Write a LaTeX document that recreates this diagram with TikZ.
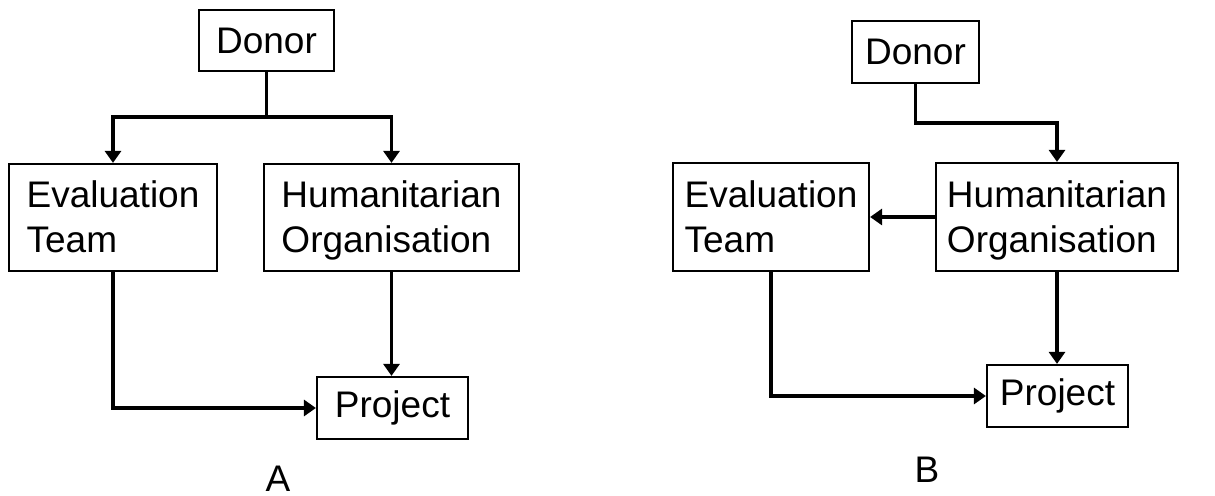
\documentclass[tikz,border=0pt]{standalone}
\usepackage{fontspec}
\setmainfont{Liberation Sans}
\usetikzlibrary{arrows.meta}
% struts that place the two text lines slightly below the box centre
\newcommand{\topline}{\rule{0pt}{17pt}}
\newcommand{\botline}{\rule[-4pt]{0pt}{4pt}}
\begin{document}
\begin{tikzpicture}[x=0.5pt,y=-0.5pt,
  box/.style={draw,line width=1.1pt,inner sep=0pt,align=left,
    font=\fontsize{18.5}{22.5}\selectfont},
  caption/.style={inner sep=0pt,font=\fontsize{18.5}{22.5}\selectfont},
  link/.style={line width=1.8pt,-{Triangle[length=6pt,width=8pt]}},
  plain/.style={line width=1.8pt}]
\useasboundingbox (0,0) rectangle (1215,496);

% Variant A: donor commissions both the evaluation team and the organisation
\node[box,minimum width=67.5pt,minimum height=30.5pt] (donorA) at (266.5,40.5) {Donor};
\node[box,minimum width=104pt,minimum height=53.5pt] (evalA) at (113,217.5) {\topline Evaluation\\Team\botline};
\node[box,minimum width=127.5pt,minimum height=53.5pt] (humA) at (391.5,217.5) {\topline Humanitarian\\Organisation\botline};
\node[box,minimum width=75.5pt,minimum height=31pt] (projA) at (392.5,408) {Project};
\node[caption,anchor=base] (capA) at (278,491) {A};
\coordinate (jA) at (266.5,117);

\draw[plain] (donorA.south) -- (jA);
\draw[link] (jA) -| (evalA.north);
\draw[link] (jA) -| (humA.north);
\draw[link] (evalA.south) |- (projA.west);
\draw[link] (humA.south) -- (humA.south |- projA.north);

% Variant B: the organisation commissions the evaluation team
\node[box,minimum width=63.5pt,minimum height=31pt] (donorB) at (915.5,52) {Donor};
\node[box,minimum width=98pt,minimum height=54pt] (evalB) at (771,217) {\topline Evaluation\\Team\botline};
\node[box,minimum width=121pt,minimum height=54pt] (humB) at (1057,217) {\topline Humanitarian\\Organisation\botline};
\node[box,minimum width=70.5pt,minimum height=31pt] (projB) at (1057.5,396) {Project};
\node[caption,anchor=base] (capB) at (927,482) {B};
\coordinate (kB) at (915.5,123);

\draw[link] (donorB.south) -- (kB) -| (humB.north);
\draw[link] (humB.west) -- (evalB.east);
\draw[link] (humB.south) -- (humB.south |- projB.north);
\draw[link] (evalB.south) |- (projB.west);
\end{tikzpicture}
\end{document}
